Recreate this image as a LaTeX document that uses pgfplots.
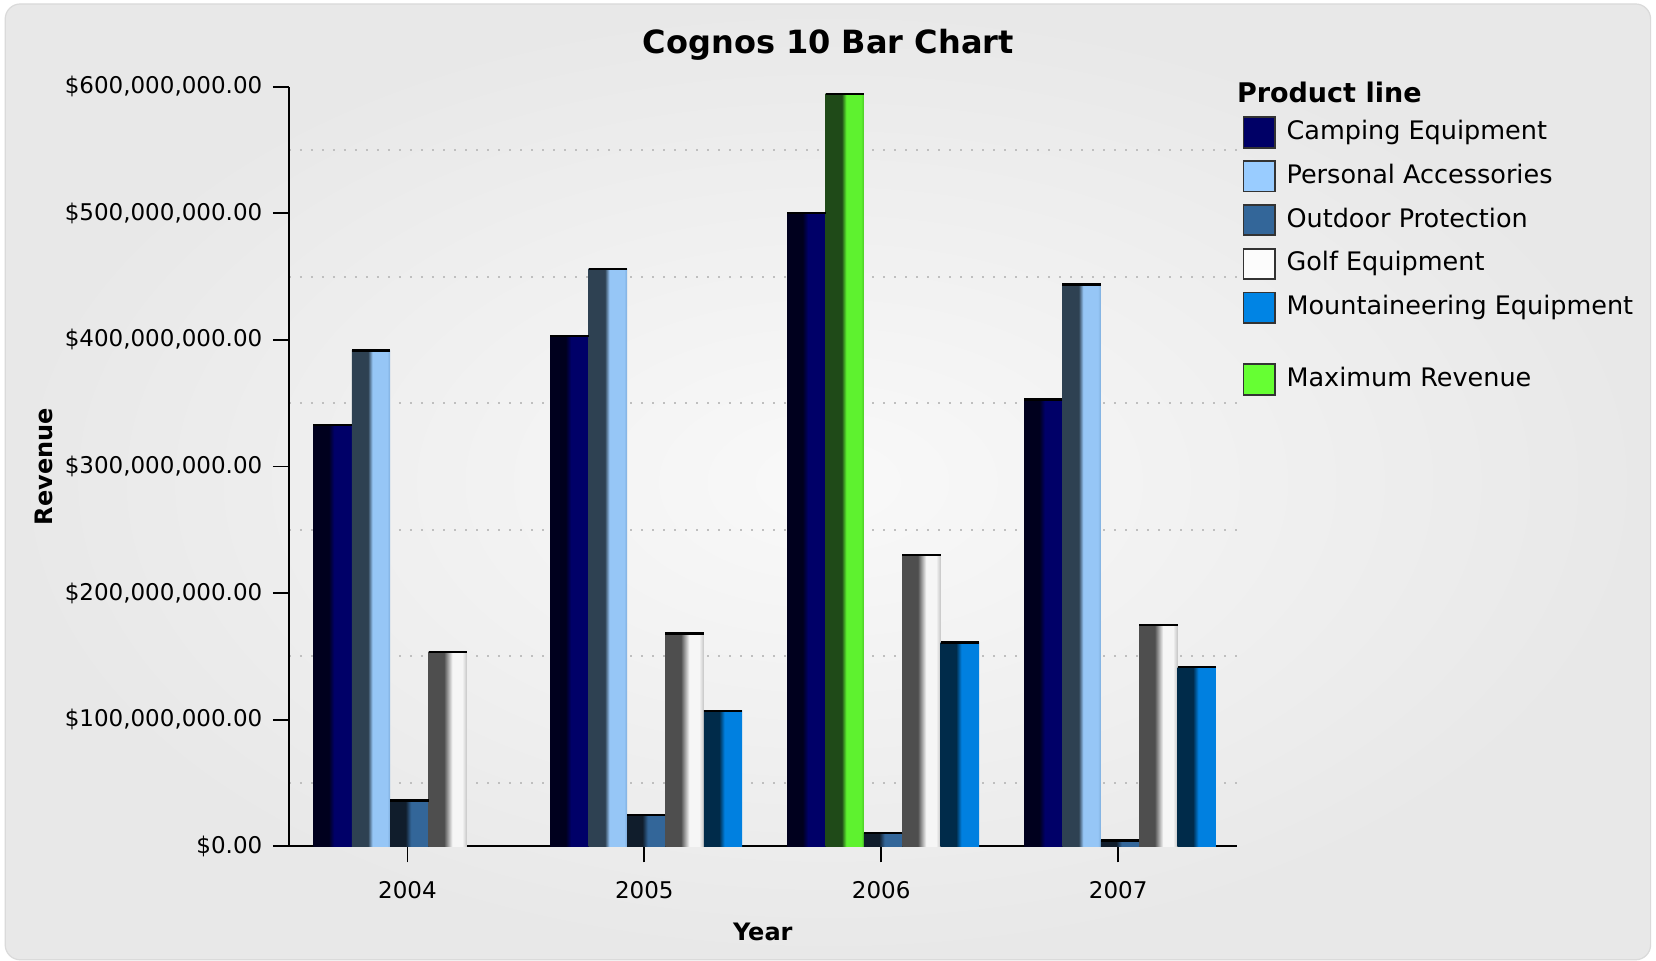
\documentclass[border=0pt]{standalone}
\usepackage{fontspec}
\setmainfont{DejaVu Sans}
\usepackage{pgfplots}
\pgfplotsset{compat=1.18}

\definecolor{campA}{HTML}{00001E}
\definecolor{campB}{HTML}{000068}
\definecolor{persA}{HTML}{2E4152}
\definecolor{persB}{HTML}{96C6F6}
\definecolor{persC}{HTML}{7FAEDD}
\definecolor{outA}{HTML}{101D2C}
\definecolor{outB}{HTML}{336699}
\definecolor{golfA}{HTML}{4E4E4E}
\definecolor{golfB}{HTML}{F6F6F6}
\definecolor{golfC}{HTML}{C4C4C4}
\definecolor{mntA}{HTML}{002B4A}
\definecolor{mntB}{HTML}{0080E0}
\definecolor{maxA}{HTML}{1F4A18}
\definecolor{maxB}{HTML}{5EF22F}
\definecolor{maxC}{HTML}{4CC826}
\definecolor{campL}{HTML}{000066}
\definecolor{persL}{HTML}{99CCFF}
\definecolor{outL}{HTML}{336699}
\definecolor{golfL}{HTML}{FCFCFC}
\definecolor{mntL}{HTML}{0084E4}
\definecolor{maxL}{HTML}{66FF33}
\definecolor{bgIn}{HTML}{F9F9F9}
\definecolor{bgOut}{HTML}{E8E8E8}
\definecolor{bgEdge}{HTML}{DADADA}

\pgfdeclarehorizontalshading{campS}{100bp}{color(0bp)=(campA); color(45bp)=(campA); color(52bp)=(campB); color(100bp)=(campB)}
\pgfdeclarehorizontalshading{persS}{100bp}{color(0bp)=(persA); color(46bp)=(persA); color(52bp)=(persB); color(71bp)=(persB); color(75bp)=(persC); color(100bp)=(persC)}
\pgfdeclarehorizontalshading{outS}{100bp}{color(0bp)=(outA); color(45bp)=(outA); color(52bp)=(outB); color(100bp)=(outB)}
\pgfdeclarehorizontalshading{golfS}{100bp}{color(0bp)=(golfA); color(45bp)=(golfA); color(56bp)=(golfB); color(69bp)=(golfB); color(75bp)=(golfC); color(100bp)=(golfC)}
\pgfdeclarehorizontalshading{mntS}{100bp}{color(0bp)=(mntA); color(45bp)=(mntA); color(52bp)=(mntB); color(100bp)=(mntB)}
\pgfdeclarehorizontalshading{maxS}{100bp}{color(0bp)=(maxA); color(46bp)=(maxA); color(52bp)=(maxB); color(71bp)=(maxB); color(75bp)=(maxC); color(100bp)=(maxC)}

\pgfplotsset{
  sw/.style={legend image code/.code={\draw[draw=black!80, line width=0.9pt, fill=#1] (0pt,-7.6pt) rectangle (15.6pt,7.6pt);}},
  gb/.style n args={2}{forget plot, ybar, bar width=0.162, bar shift=#2, draw=none, shade, shading=#1},
  topline/.style={forget plot, only marks, mark=-, mark size=9.6pt, mark options={black, line width=1.1pt}, xshift=#1},
}

\begin{document}
\begin{tikzpicture}
\useasboundingbox (0,0) rectangle (828pt,480.5pt);
\fill[white] (0,0) rectangle (828pt,480.5pt);
\shade[inner color=bgIn, outer color=bgOut, rounded corners=7.5pt] (2.6pt,0.6pt) rectangle (825.3pt,478.5pt);
\draw[bgEdge, line width=0.6pt, rounded corners=7.5pt] (2.6pt,0.6pt) rectangle (825.3pt,478.5pt);

\node[anchor=base, inner sep=0pt, font=\fontsize{16}{19}\selectfont\bfseries] at (414.2pt,453.5pt) {Cognos 10 Bar Chart};
\node[anchor=base west, inner sep=0pt, font=\fontsize{13.5}{16}\selectfont\bfseries] at (618.3pt,429.35pt) {Product line};

\begin{axis}[
  at={(144.5pt,57.35pt)}, anchor=south west,
  scale only axis, width=473.8pt, height=379.8pt,
  xmin=-0.5, xmax=3.5, ymin=0, ymax=600,
  axis lines=left, axis line style={-, line width=0.9pt, black},
  xtick={0,1,2,3}, xticklabels={2004,2005,2006,2007},
  ytick={0,100,200,300,400,500,600},
  yticklabels={{\$0.00},{\$100,000,000.00},{\$200,000,000.00},{\$300,000,000.00},{\$400,000,000.00},{\$500,000,000.00},{\$600,000,000.00}},
  minor ytick={50,150,250,350,450,550},
  yminorgrids, minor grid style={gray!50, line width=1pt, dash pattern=on 1pt off 4.5pt},
  minor tick length=0pt,
  tick align=outside, major tick length=8pt,
  major tick style={black, line width=0.9pt},
  ticklabel style={font=\fontsize{11.5}{13}\selectfont},
  yticklabel style={xshift=-1.8pt},
  xticklabel style={yshift=-5.8pt},
  xlabel={Year}, ylabel={Revenue},
  label style={font=\fontsize{12}{14}\selectfont\bfseries},
  xlabel style={at={(axis description cs:0.5,-0.1122)}, anchor=center},
  ylabel style={at={(axis description cs:-0.2581,0.5)}, anchor=center},
  legend cell align=left,
  legend style={draw=none, fill=none, at={(1.0063,0.9608)}, anchor=north west,
    inner sep=0pt, outer sep=0pt, row sep=5.8pt, column sep=5.5pt,
    font=\fontsize{12.75}{15.3}\selectfont,
    nodes={inner sep=0pt, text height=9.5pt, text depth=2.5pt}},
  clip=false,
]
% legend
\addlegendimage{sw=campL}\addlegendentry{Camping Equipment}
\addlegendimage{sw=persL}\addlegendentry{Personal Accessories}
\addlegendimage{sw=outL}\addlegendentry{Outdoor Protection}
\addlegendimage{sw=golfL}\addlegendentry{Golf Equipment}
\addlegendimage{sw=mntL}\addlegendentry{Mountaineering Equipment}
\addlegendimage{empty legend}\addlegendentry[text height=8.2pt, text depth=0pt]{}
\addlegendimage{sw=maxL}\addlegendentry{Maximum Revenue}

% Camping Equipment
\addplot[gb={campS}{-0.316}] coordinates {(0,333.0)};
\addplot[gb={campS}{-0.316}] coordinates {(1,402.8)};
\addplot[gb={campS}{-0.316}] coordinates {(2,500.4)};
\addplot[gb={campS}{-0.316}] coordinates {(3,352.9)};
\addplot[topline=-37.43pt] coordinates {(0,333.0) (1,402.8) (2,500.4) (3,352.9)};
% Personal Accessories
\addplot[gb={persS}{-0.154}] coordinates {(0,391.6)};
\addplot[gb={persS}{-0.154}] coordinates {(1,456.3)};
\addplot[gb={persS}{-0.154}] coordinates {(3,443.7)};
\addplot[topline=-18.24pt] coordinates {(0,391.6) (1,456.3) (3,443.7)};
% Maximum Revenue (Personal Accessories 2006)
\addplot[gb={maxS}{-0.154}] coordinates {(2,594.5)};
\addplot[topline=-18.24pt] coordinates {(2,594.5)};
% Outdoor Protection
\addplot[gb={outS}{0.008}] coordinates {(0,36.2)};
\addplot[gb={outS}{0.008}] coordinates {(1,25.0)};
\addplot[gb={outS}{0.008}] coordinates {(2,10.3)};
\addplot[gb={outS}{0.008}] coordinates {(3,4.5)};
\addplot[topline=0.95pt] coordinates {(0,36.2) (1,25.0) (2,10.3) (3,4.5)};
% Golf Equipment
\addplot[gb={golfS}{0.170}] coordinates {(0,153.6)};
\addplot[gb={golfS}{0.170}] coordinates {(1,168.0)};
\addplot[gb={golfS}{0.170}] coordinates {(2,230.1)};
\addplot[gb={golfS}{0.170}] coordinates {(3,174.7)};
\addplot[topline=20.14pt] coordinates {(0,153.6) (1,168.0) (2,230.1) (3,174.7)};
% Mountaineering Equipment
\addplot[gb={mntS}{0.332}] coordinates {(1,107.1)};
\addplot[gb={mntS}{0.332}] coordinates {(2,161.0)};
\addplot[gb={mntS}{0.332}] coordinates {(3,141.5)};
\addplot[topline=39.33pt] coordinates {(1,107.1) (2,161.0) (3,141.5)};
\end{axis}
\end{tikzpicture}
\end{document}
